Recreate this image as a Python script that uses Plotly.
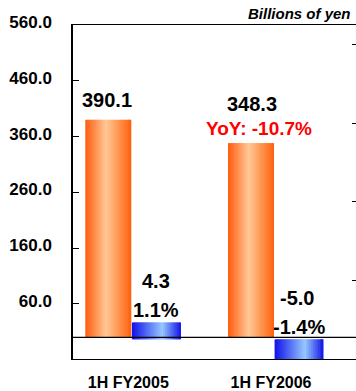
import plotly.graph_objects as go

# Half-year results, billions of yen
categories = ["1H FY2005", "1H FY2006"]
net_sales = [390.1, 348.3]          # left axis
net_income = [4.3, -5.0]            # right axis
income_ratio = [1.1, -1.4]          # net income / net sales, %
yoy_text = "YoY: -10.7%"
unit_text = "Billions of yen"
left_ticks = [60, 160, 260, 360, 460, 560]
right_ticks = [15, 35, 55, 75]

FONT = "Arial, 'Liberation Sans', sans-serif"

# horizontal colour ramps used to shade the columns
ORANGE_STOPS = [(0.0, (255, 92, 16)), (0.45, (255, 200, 150)), (1.0, (255, 98, 12))]
BLUE_STOPS = [(0.0, (16, 16, 235)), (0.62, (150, 200, 255)), (1.0, (20, 20, 230))]


def ramp(stops, t):
    for (p0, c0), (p1, c1) in zip(stops, stops[1:]):
        if t <= p1:
            f = (t - p0) / (p1 - p0)
            return "rgb(%d,%d,%d)" % tuple(round(a + (b - a) * f) for a, b in zip(c0, c1))
    return "rgb(%d,%d,%d)" % stops[-1][1]


def shaded_bars(values, offset, width, stops, yaxis, n=28):
    """One column per category, built from thin vertical strips."""
    strips = []
    step = width / n
    for k in range(n):
        w = step * (1.7 if k < n - 1 else 1.0)
        strips.append(go.Bar(
            x=categories, y=values, yaxis=yaxis,
            offset=offset + k * step, width=w,
            marker=dict(color=ramp(stops, (k + 0.5) / n), line=dict(width=0)),
            hoverinfo="skip", showlegend=False,
        ))
    return strips


ORANGE_OFF, ORANGE_W = -0.3224, 0.3224
BLUE_OFF, BLUE_W = 0.004, 0.343

fig = go.Figure()
for tr in shaded_bars(net_sales, ORANGE_OFF, ORANGE_W, ORANGE_STOPS, "y"):
    fig.add_trace(tr)
for tr in shaded_bars(net_income, BLUE_OFF, BLUE_W, BLUE_STOPS, "y2"):
    fig.add_trace(tr)

annotations = []
lab_font = dict(family=FONT, size=20, color="black", weight="bold")
o_mid = ORANGE_OFF + ORANGE_W / 2
b_mid = BLUE_OFF + BLUE_W / 2

# value labels above the net-sales columns
for i, v in enumerate(net_sales):
    annotations.append(dict(
        x=i + o_mid, y=v, xref="x", yref="y", text=f"{v:.1f}",
        showarrow=False, yanchor="bottom", font=lab_font,
        xshift=[-1, 1][i], yshift=[7, 26][i],
    ))
annotations.append(dict(
    x=1 + o_mid, y=net_sales[1], xref="x", yref="y", text=yoy_text,
    showarrow=False, yanchor="bottom", xshift=8, yshift=2,
    font=dict(family=FONT, size=19, color="#FF0000", weight="bold"),
))

# net income value and ratio above the right-axis columns
for i, (v, r) in enumerate(zip(net_income, income_ratio)):
    top = max(v, 0)
    annotations.append(dict(
        x=i + b_mid, y=top, xref="x", yref="y2", text=f"{v:.1f}",
        showarrow=False, yanchor="bottom", font=lab_font,
        xshift=[0, -2][i], yshift=28,
    ))
    annotations.append(dict(
        x=i + b_mid, y=top, xref="x", yref="y2", text=f"{r:.1f}%",
        showarrow=False, yanchor="bottom", font=lab_font,
        xshift=[0, 0][i], yshift=-1,
    ))

annotations.append(dict(
    x=1, y=1, xref="paper", yref="paper", text=unit_text,
    showarrow=False, xanchor="right", yanchor="bottom", xshift=-3, yshift=1,
    font=dict(family=FONT, size=15, color="black", weight="bold", style="italic"),
))

fig.update_layout(
    width=356, height=391,
    margin=dict(l=73, r=0, t=25, b=32, autoexpand=False),
    paper_bgcolor="white", plot_bgcolor="white",
    barmode="overlay", showlegend=False,
    font=dict(family=FONT, color="black"),
    annotations=annotations,
    shapes=[dict(type="line", xref="paper", yref="y", x0=0, x1=1, y0=0, y1=0,
                 line=dict(color="black", width=1.2), layer="above")],
    xaxis=dict(
        type="category", range=[-0.4086, 1.5746], automargin=False,
        showline=True, mirror=True, linecolor="black", linewidth=1.3,
        ticks="", showgrid=False, zeroline=False,
        tickfont=dict(family=FONT, size=16, color="black", weight="bold"),
        ticklabelstandoff=9, ticklabelshift=-3,
    ),
    yaxis=dict(
        range=[-38.6, 560], tickvals=left_ticks, tickformat=".1f", automargin=False,
        ticks="inside", ticklen=6, tickwidth=1.3, tickcolor="black",
        showline=True, linecolor="black", linewidth=1.5,
        showgrid=False, zeroline=False,
        tickfont=dict(family=FONT, size=17, color="black", weight="bold"),
        ticklabelstandoff=16, ticklabelshift=-3,
    ),
    yaxis2=dict(
        overlaying="y", side="right", range=[-5, 80], tickvals=right_ticks,
        automargin=False,
        ticks="inside", ticklen=4, tickwidth=1.3, tickcolor="black",
        showticklabels=False, showline=False, showgrid=False, zeroline=False,
    ),
)

fig.write_html("out.html")
